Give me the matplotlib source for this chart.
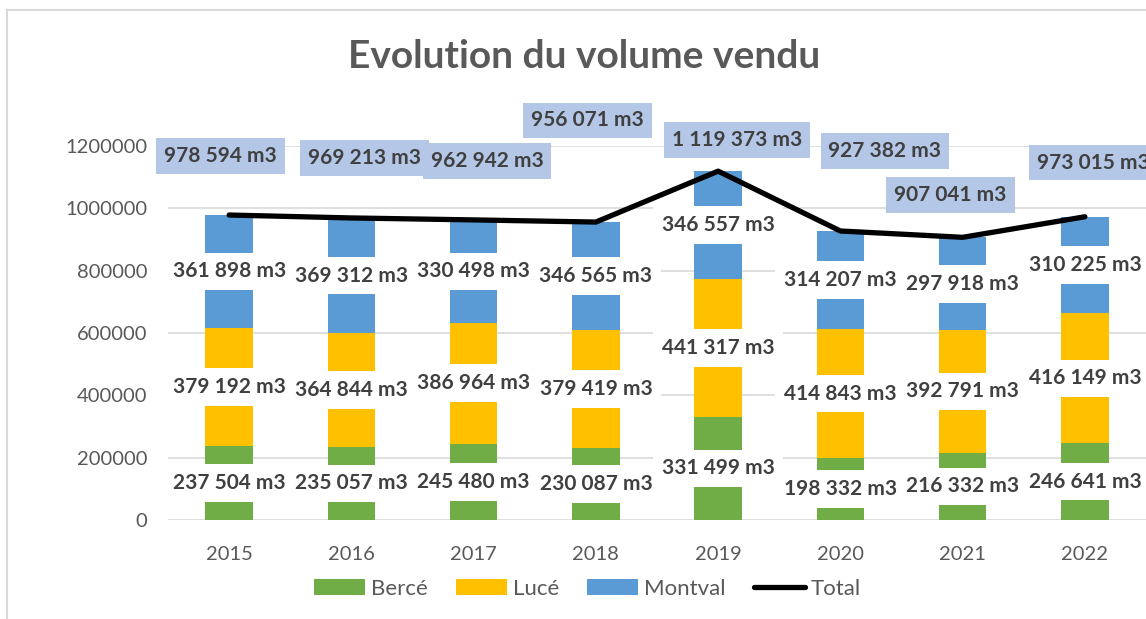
import matplotlib.pyplot as plt
import numpy as np

# chart data
years = ["2015", "2016", "2017", "2018", "2019", "2020", "2021", "2022"]
berce = [237504, 235057, 245480, 230087, 331499, 198332, 216332, 246641]
luce = [379192, 364844, 386964, 379419, 441317, 414843, 392791, 416149]
montval = [361898, 369312, 330498, 346565, 346557, 314207, 297918, 310225]
total = [978594, 969213, 962942, 956071, 1119373, 927382, 907041, 973015]

# hand placement of the total labels (x shift in categories, y in data units)
tot_dx = [-0.07, 0.11, 0.11, -0.07, 0.155, 0.365, -0.10, 0.07]
tot_y = [1169000, 1161000, 1153000, 1282000, 1219000, 1184000, 1043000, 1147000]

plt.rcParams['font.family'] = ['Lato', 'DejaVu Sans']

C_BERCE = '#70AD47'
C_LUCE = '#FFC000'
C_MONT = '#5B9BD5'
C_BOX = '#B4C7E7'
GREY = '#595959'
LBL = '#404040'


def fmt(v):
    return f"{v:,}".replace(",", " ") + " m3"


fig = plt.figure(figsize=(11.46, 6.19), dpi=100)
ax = fig.add_axes([0.1466, 0.1599, 0.8534, 0.6042])

x = np.arange(len(years))
w = 0.39
b1 = ax.bar(x, berce, w, color=C_BERCE, label='Bercé', zorder=2)
bot2 = np.array(berce)
b2 = ax.bar(x, luce, w, bottom=bot2, color=C_LUCE, label='Lucé', zorder=2)
bot3 = bot2 + np.array(luce)
b3 = ax.bar(x, montval, w, bottom=bot3, color=C_MONT, label='Montval', zorder=2)
line, = ax.plot(x, total, color='black', lw=3.8, solid_capstyle='round',
                solid_joinstyle='round', label='Total', zorder=3)

# segment labels, centred in each segment on a white box
for vals, bots in [(berce, np.zeros(len(x))), (luce, bot2), (montval, bot3)]:
    for i, (v, b) in enumerate(zip(vals, bots)):
        ax.text(x[i], b + v / 2, fmt(v), ha='center', va='center',
                fontsize=15, fontweight='bold', color=LBL, zorder=4,
                bbox=dict(boxstyle='square,pad=0.42', fc='white', ec='none'))

# total labels
for i, v in enumerate(total):
    ax.text(x[i] + tot_dx[i], tot_y[i], fmt(v), ha='center', va='center',
            fontsize=15, fontweight='bold', color=LBL, zorder=5, clip_on=False,
            bbox=dict(boxstyle='square,pad=0.38', fc=C_BOX, ec='none'))

ax.set_xlim(-0.5, len(years) - 0.5)
ax.set_ylim(0, 1200000)
ax.set_yticks(np.arange(0, 1200001, 200000))
ax.set_yticklabels([str(t) for t in range(0, 1200001, 200000)])
ax.set_xticks(x)
ax.set_xticklabels(years)
ax.tick_params(axis='both', length=0, labelsize=14.5, colors=GREY)
ax.tick_params(axis='x', pad=19)
ax.tick_params(axis='y', pad=15)
ax.grid(axis='y', color='#D9D9D9', lw=1.2, zorder=0)
ax.set_axisbelow(True)
for s in ax.spines.values():
    s.set_visible(False)

fig.text(0.5095, 0.908, 'Evolution du volume vendu', ha='center', va='center',
         fontsize=28, fontweight='bold', color=GREY)

fig.legend(handles=[b1, b2, b3, line], labels=['Bercé', 'Lucé', 'Montval', 'Total'],
           loc='center', bbox_to_anchor=(0.5127, 0.0485), ncol=4, frameon=False,
           fontsize=16, labelcolor=GREY, handlelength=2.3, handletextpad=0.27,
           columnspacing=1.26)

# chart frame
fig.add_artist(plt.Line2D([7 / 1146, 7 / 1146], [0, 1 - 10 / 619],
                          transform=fig.transFigure, color='#D9D9D9', lw=1.5))
fig.add_artist(plt.Line2D([7 / 1146, 1], [1 - 10 / 619, 1 - 10 / 619],
                          transform=fig.transFigure, color='#D9D9D9', lw=1.5))

fig.savefig('out.png', dpi=100)
